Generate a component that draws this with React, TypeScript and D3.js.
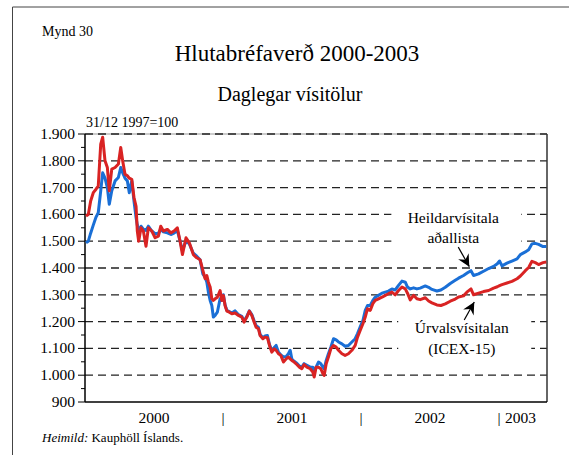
import React from "react";
import * as d3 from "d3";

// decimal years
const times = [
  2000.007, 2000.024, 2000.041, 2000.060, 2000.080, 2000.096, 2000.114, 2000.128, 2000.145, 2000.162,
  2000.176, 2000.194, 2000.218, 2000.242, 2000.259, 2000.273, 2000.290, 2000.307, 2000.321, 2000.339,
  2000.355, 2000.370, 2000.379, 2000.389, 2000.406, 2000.423, 2000.442, 2000.459, 2000.484, 2000.508,
  2000.532, 2000.549, 2000.568, 2000.597, 2000.622, 2000.645, 2000.669, 2000.689, 2000.706, 2000.732,
  2000.756, 2000.785, 2000.810, 2000.834, 2000.854, 2000.870, 2000.883, 2000.894, 2000.907, 2000.919,
  2000.930, 2000.943, 2000.959, 2000.979, 2000.991, 2001.003, 2001.015, 2001.028, 2001.046, 2001.064,
  2001.088, 2001.112, 2001.136, 2001.153, 2001.173, 2001.191, 2001.209, 2001.226, 2001.240, 2001.257,
  2001.269, 2001.289, 2001.305, 2001.322, 2001.337, 2001.354, 2001.371, 2001.385, 2001.402, 2001.419,
  2001.438, 2001.458, 2001.474, 2001.487, 2001.499, 2001.516, 2001.535, 2001.554, 2001.571, 2001.588,
  2001.608, 2001.632, 2001.651, 2001.661, 2001.675, 2001.692, 2001.709, 2001.724, 2001.733, 2001.748,
  2001.764, 2001.782, 2001.801, 2001.820, 2001.837, 2001.862, 2001.885, 2001.909, 2001.934, 2001.958,
  2001.975, 2001.994, 2002.014, 2002.031, 2002.047, 2002.067, 2002.086, 2002.103, 2002.127, 2002.152,
  2002.176, 2002.199, 2002.224, 2002.248, 2002.272, 2002.297, 2002.321, 2002.337, 2002.357, 2002.381,
  2002.405, 2002.429, 2002.466, 2002.490, 2002.514, 2002.550, 2002.579, 2002.611, 2002.647, 2002.683,
  2002.707, 2002.743, 2002.772, 2002.797, 2002.816, 2002.852, 2002.888, 2002.925, 2002.961, 2002.988,
  2003.004, 2003.022, 2003.058, 2003.094, 2003.131, 2003.155, 2003.191, 2003.215, 2003.239, 2003.263,
  2003.287, 2003.319, 2003.343,
];

// Heildarvísitala aðallista (blue)
const heildar = [
  1494, 1500, 1530, 1560, 1590, 1606, 1688, 1755, 1735, 1700,
  1638, 1688, 1725, 1738, 1775, 1755, 1735, 1725, 1681, 1725,
  1650, 1588, 1560, 1538, 1556, 1545, 1540, 1556, 1538, 1528,
  1530, 1544, 1535, 1531, 1525, 1530, 1540, 1500, 1465, 1500,
  1490, 1455, 1444, 1431, 1378, 1366, 1347, 1310, 1279, 1260,
  1217, 1223, 1235, 1285, 1279, 1300, 1262, 1242, 1237, 1232,
  1240, 1226, 1220, 1202, 1220, 1240, 1226, 1202, 1185, 1178,
  1152, 1140, 1146, 1148, 1114, 1092, 1103, 1111, 1086, 1076,
  1068, 1070, 1080, 1093, 1060, 1052, 1045, 1034, 1030, 1043,
  1037, 1030, 1030, 1012, 1030, 1049, 1043, 1030, 1024, 1055,
  1080, 1105, 1136, 1132, 1124, 1117, 1108, 1111, 1124, 1136,
  1155, 1180, 1204, 1242, 1260, 1260, 1279, 1291, 1298, 1306,
  1310, 1314, 1322, 1318, 1335, 1351, 1347, 1329, 1322, 1326,
  1322, 1325, 1333, 1328, 1320, 1314, 1318, 1328, 1342, 1354,
  1362, 1372, 1382, 1390, 1372, 1378, 1388, 1398, 1406, 1416,
  1426, 1408, 1418, 1426, 1434, 1450, 1460, 1468, 1490, 1492,
  1488, 1480, 1480,
];

// Úrvalsvísitalan ICEX-15 (red)
const urvals = [
  1594, 1600, 1650, 1681, 1694, 1706, 1862, 1888, 1800, 1775,
  1688, 1769, 1775, 1788, 1850, 1800, 1750, 1744, 1735, 1731,
  1663, 1630, 1538, 1500, 1550, 1538, 1481, 1550, 1538, 1513,
  1519, 1556, 1538, 1544, 1531, 1538, 1550, 1500, 1450, 1513,
  1494, 1450, 1438, 1431, 1391, 1360, 1372, 1347, 1329, 1285,
  1279, 1285, 1291, 1316, 1279, 1297, 1260, 1239, 1235, 1229,
  1232, 1223, 1217, 1198, 1217, 1239, 1223, 1198, 1179, 1173,
  1148, 1136, 1142, 1140, 1111, 1086, 1098, 1093, 1080, 1074,
  1049, 1061, 1068, 1061, 1055, 1049, 1040, 1030, 1024, 1040,
  1030, 1024, 1012, 993, 1030, 1030, 1024, 1006, 999, 1043,
  1068, 1099, 1111, 1105, 1093, 1080, 1074, 1080, 1093, 1111,
  1142, 1167, 1192, 1217, 1248, 1242, 1267, 1279, 1285, 1291,
  1298, 1304, 1310, 1300, 1316, 1329, 1322, 1306, 1281, 1298,
  1285, 1282, 1289, 1277, 1270, 1262, 1260, 1266, 1276, 1284,
  1292, 1296, 1312, 1322, 1300, 1306, 1312, 1316, 1325, 1330,
  1334, 1338, 1344, 1350, 1360, 1370, 1390, 1402, 1425, 1420,
  1413, 1420, 1422,
];

const yTicks = [900, 1000, 1100, 1200, 1300, 1400, 1500, 1600, 1700, 1800, 1900];
const yMinor = [950, 1050, 1150, 1250, 1350, 1450, 1550, 1650, 1750, 1850];
const yearLabels = ["2000", "2001", "2002", "2003"];
const yearStarts = [2000, 2001, 2002, 2003];

const FONT = "'Liberation Serif', 'Times New Roman', Tinos, 'DejaVu Serif', serif";

function arrowHead(tx: number, ty: number, fx: number, fy: number) {
  const dx = tx - fx, dy = ty - fy;
  const L = Math.hypot(dx, dy);
  const ux = dx / L, uy = dy / L;
  const px = -uy, py = ux;
  const len = 12, hw = 6, notch = 8;
  const p1 = [tx - len * ux + hw * px, ty - len * uy + hw * py];
  const p2 = [tx - notch * ux, ty - notch * uy];
  const p3 = [tx - len * ux - hw * px, ty - len * uy - hw * py];
  return `M${tx},${ty}L${p1[0]},${p1[1]}L${p2[0]},${p2[1]}L${p3[0]},${p3[1]}Z`;
}

export default function App() {
  const W = 569, H = 455;
  const left = 85, right = 547, top = 134, bottom = 402;
  const x = d3.scaleLinear().domain([2000, 2003.348]).range([left, right]);
  const y = d3.scaleLinear().domain([900, 1900]).range([bottom, top]);
  const fmt = (v: number) => d3.format(",")(v).replace(/,/g, ".");

  const mk = (vals: number[]) =>
    d3.line<number>().x((_, i) => x(times[i])).y((d) => y(d))(vals) || "";

  // annotation anchors in data space
  const hTip = [x(2002.785), y(1405)];
  const hTail = [x(2002.705), y(1478)];
  const uTip = [x(2002.821), y(1273)];
  const uTail = [x(2002.748), y(1206)];

  return (
    <svg width={W} height={H} style={{ position: "absolute", left: 0, top: 0, background: "#fff", fontFamily: FONT }}>
      <rect x={0} y={0} width={W} height={H} fill="#fff" />
      {/* outer frame */}
      <line x1={12.5} y1={7} x2={W} y2={7} stroke="#444" strokeWidth={1} />
      <line x1={12.5} y1={7} x2={12.5} y2={H} stroke="#444" strokeWidth={1} />

      <text x={42} y={36} fontSize={14}>Mynd 30</text>
      <text x={297} y={61} fontSize={23} textAnchor="middle">Hlutabréfaverð 2000-2003</text>
      <text x={290} y={101} fontSize={20} textAnchor="middle">Daglegar vísitölur</text>
      <text x={86} y={127} fontSize={14}>31/12 1997=100</text>

      {/* gridlines */}
      <line x1={left} x2={right} y1={y(1900)} y2={y(1900)} stroke="#999" strokeWidth={1} />
      {yTicks.filter((t) => t > 900).map((t) => (
        <line key={t} x1={left} x2={right} y1={y(t)} y2={y(t)} stroke="#222" strokeWidth={1.3}
          strokeDasharray="8 5" />
      ))}

      {/* label background boxes */}
      <rect x={x(2002.22)} y={y(1660)} width={130} height={y(1480) - y(1660)} fill="#fff" />
      <rect x={x(2002.27)} y={y(1250)} width={133} height={y(1060) - y(1250)} fill="#fff" />

      {/* axes */}
      <line x1={left} x2={left} y1={top} y2={bottom} stroke="#000" strokeWidth={1.5} />
      <line x1={right} x2={right} y1={top} y2={bottom} stroke="#333" strokeWidth={1.5} />
      <line x1={left} x2={right} y1={bottom} y2={bottom} stroke="#000" strokeWidth={1.5} />
      {yTicks.map((t) => (
        <g key={t}>
          <line x1={left - 7} x2={left} y1={y(t)} y2={y(t)} stroke="#000" strokeWidth={1} />
          <text x={75} y={y(t) + 5} fontSize={15.5} textAnchor="end">{fmt(t)}</text>
        </g>
      ))}
      {yMinor.map((t) => (
        <line key={t} x1={left - 4} x2={left} y1={y(t)} y2={y(t)} stroke="#000" strokeWidth={1} />
      ))}

      {/* x labels */}
      {yearLabels.slice(0, 3).map((lab, i) => (
        <text key={lab} x={x(yearStarts[i] + 0.5)} y={423} fontSize={15.5} textAnchor="middle">{lab}</text>
      ))}
      {yearStarts.slice(1).map((s) => (
        <text key={s} x={x(s)} y={423} fontSize={15.5} textAnchor="middle" fill="#000">|</text>
      ))}
      <text x={x(2003) + 6} y={423} fontSize={15.5}>{yearLabels[3]}</text>

      {/* series */}
      <path d={mk(heildar)} fill="none" stroke="#1a6fd6" strokeWidth={3} strokeLinejoin="round" />
      <path d={mk(urvals)} fill="none" stroke="#d92323" strokeWidth={3} strokeLinejoin="round" />

      {/* annotations */}
      <text x={x(2002.669)} y={223} fontSize={15.5} textAnchor="middle">Heildarvísitala</text>
      <text x={x(2002.669)} y={243} fontSize={15.5} textAnchor="middle">aðallista</text>
      <line x1={hTail[0]} y1={hTail[1]} x2={hTip[0]} y2={hTip[1]} stroke="#000" strokeWidth={1.2} />
      <path d={arrowHead(hTip[0], hTip[1], hTail[0], hTail[1])} fill="#000" />

      <text x={x(2002.73)} y={333} fontSize={15.5} textAnchor="middle">Úrvalsvísitalan</text>
      <text x={x(2002.73)} y={354} fontSize={15.5} textAnchor="middle">(ICEX-15)</text>
      <line x1={uTail[0]} y1={uTail[1]} x2={uTip[0]} y2={uTip[1]} stroke="#000" strokeWidth={1.2} />
      <path d={arrowHead(uTip[0], uTip[1], uTail[0], uTail[1])} fill="#000" />

      <text x={42} y={442} fontSize={13}>
        <tspan fontStyle="italic">Heimild:</tspan> Kauphöll Íslands.
      </text>
    </svg>
  );
}
